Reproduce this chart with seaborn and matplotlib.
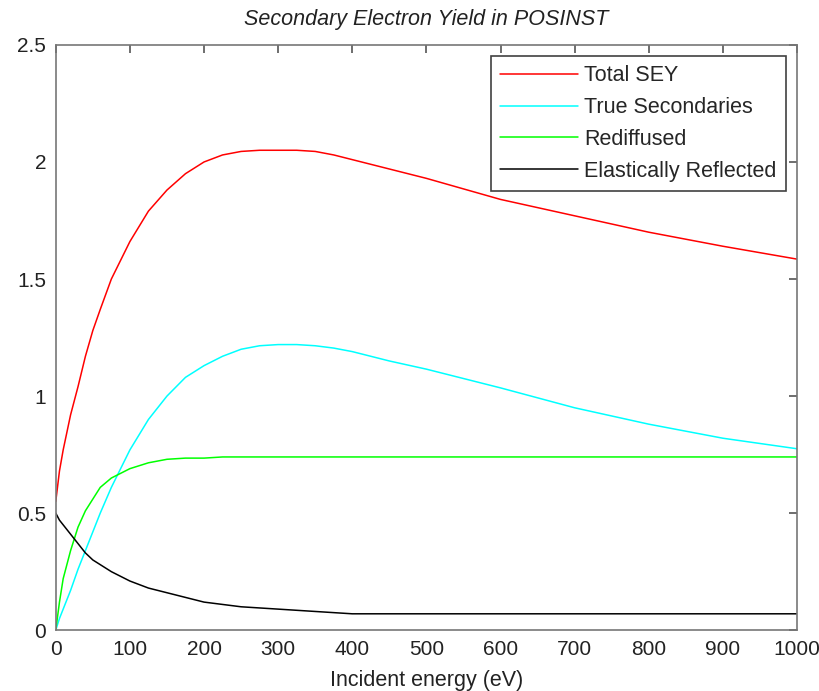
import pandas as pd
import matplotlib.pyplot as plt
import seaborn as sns

# incident energy (eV) sample points
energy = [0, 5, 10, 20, 30, 40, 50, 60, 75, 100, 125, 150, 175, 200, 225,
          250, 275, 300, 325, 350, 375, 400, 450, 500, 600, 700, 800, 900, 1000]

total_sey = [0.55, 0.68, 0.77, 0.92, 1.04, 1.17, 1.28, 1.37, 1.50, 1.66, 1.79, 1.88, 1.95, 2.00, 2.03,
             2.045, 2.05, 2.05, 2.05, 2.045, 2.03, 2.01, 1.97, 1.93, 1.84, 1.77, 1.70, 1.64, 1.585]
true_sec = [0.0, 0.05, 0.09, 0.17, 0.26, 0.34, 0.42, 0.50, 0.61, 0.77, 0.90, 1.00, 1.08, 1.13, 1.17,
            1.20, 1.215, 1.22, 1.22, 1.215, 1.205, 1.19, 1.15, 1.115, 1.035, 0.95, 0.88, 0.82, 0.775]
rediffused = [0.0, 0.12, 0.22, 0.34, 0.44, 0.51, 0.56, 0.61, 0.65, 0.69, 0.715, 0.73, 0.735, 0.735, 0.74,
              0.74, 0.74, 0.74, 0.74, 0.74, 0.74, 0.74, 0.74, 0.74, 0.74, 0.74, 0.74, 0.74, 0.74]
elastic = [0.5, 0.47, 0.45, 0.41, 0.37, 0.33, 0.30, 0.28, 0.25, 0.21, 0.18, 0.16, 0.14, 0.12, 0.11,
           0.10, 0.095, 0.09, 0.085, 0.08, 0.075, 0.07, 0.07, 0.07, 0.07, 0.07, 0.07, 0.07, 0.07]

series_names = ['Total SEY', 'True Secondaries', 'Rediffused', 'Elastically Reflected']
series_colors = ['#ff0000', '#00ffff', '#00ff00', '#000000']

# long form table for seaborn
frames = []
for name, vals in zip(series_names, [total_sey, true_sec, rediffused, elastic]):
    frames.append(pd.DataFrame({'energy': energy, 'yield': vals, 'component': name}))
df = pd.concat(frames, ignore_index=True)

sns.set_style('white')
plt.rcParams['font.family'] = ['Liberation Sans', 'DejaVu Sans']

fig = plt.figure(figsize=(8.2, 6.91), dpi=100)
ax = fig.add_axes([0.068, 0.088, 0.904, 0.847])

sns.lineplot(data=df, x='energy', y='yield', hue='component', hue_order=series_names,
             palette=dict(zip(series_names, series_colors)), linewidth=1.1, ax=ax,
             estimator=None, sort=False)

ax.set_xlim(0, 1000)
ax.set_ylim(0, 2.5)
ax.set_xticks(range(0, 1001, 100))
ax.set_yticks([0, 0.5, 1, 1.5, 2, 2.5])
ax.set_yticklabels(['0', '0.5', '1', '1.5', '2', '2.5'])

for sp in ax.spines.values():
    sp.set_visible(True)
    sp.set_color('#777777')
    sp.set_linewidth(1.2)
ax.tick_params(direction='in', length=6, width=1.2, color='#555555',
               top=True, right=True, labelsize=15, labelcolor='#222222', pad=7)

ax.set_title('Secondary Electron Yield in POSINST', fontsize=15.5, style='italic',
             color='#222222', pad=14)
ax.set_xlabel('Incident energy (eV)', fontsize=15.5, color='#222222', labelpad=8)
ax.set_ylabel('')

handles, labels = ax.get_legend_handles_labels()
leg = ax.legend(handles, labels, loc='upper right', fontsize=15.5, frameon=True,
                fancybox=False, edgecolor='#111111', handlelength=3.6,
                borderpad=0.45, labelspacing=0.5, handletextpad=0.3,
                borderaxespad=0.5)
leg.get_frame().set_linewidth(1.2)

plt.savefig('out.png', dpi=100)
